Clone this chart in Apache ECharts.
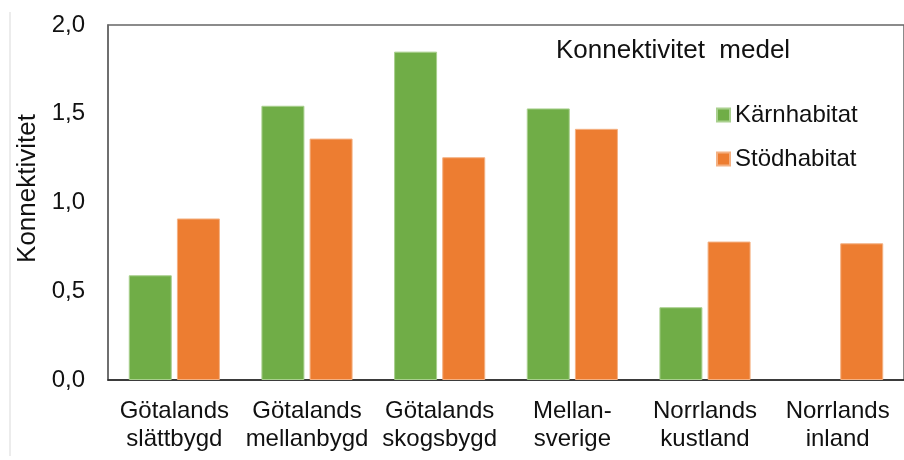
<!DOCTYPE html>
<html>
<head>
<meta charset="utf-8">
<script src="https://cdn.jsdelivr.net/npm/echarts@6/dist/echarts.min.js"></script>
<style>
  html, body { margin: 0; padding: 0; background: #fff; }
  #chart { width: 904px; height: 460px; }
</style>
</head>
<body>
<div id="chart"></div>
<script>
const categories = ['Götalands\nslättbygd', 'Götalands\nmellanbygd', 'Götalands\nskogsbygd', 'Mellan-\nsverige', 'Norrlands\nkustland', 'Norrlands\ninland'];
const karnhabitat = [0.59, 1.545, 1.85, 1.53, 0.41, null];
const stodhabitat = [0.91, 1.36, 1.255, 1.415, 0.78, 0.77];
const yTicks = { min: 0, max: 2, interval: 0.5 };

const font = 'Liberation Sans, Arial, sans-serif';
const chart = echarts.init(document.getElementById('chart'));

chart.setOption({
    animation: false,
    textStyle: { fontFamily: font },
    title: {
        text: 'Konnektivitet  medel',
        left: 551,
        top: 33,
        textStyle: { fontFamily: font, fontSize: 26, fontWeight: 'normal', color: '#111' }
    },
    legend: {
        orient: 'vertical',
        left: 711,
        top: 98,
        itemWidth: 13,
        itemHeight: 13,
        itemGap: 20,
        icon: 'rect',
        textStyle: { fontFamily: font, fontSize: 24, color: '#111' },
        data: ['Kärnhabitat', 'Stödhabitat']
    },
    grid: {
        left: 108,
        top: 25,
        width: 807,
        bottom: 80,
        show: true,
        borderColor: '#666',
        borderWidth: 1.5,
        containLabel: false
    },
    graphic: [{
        type: 'line',
        shape: { x1: 10, y1: 12, x2: 10, y2: 456 },
        style: { stroke: '#d9d9d9', lineWidth: 1 }
    }],
    xAxis: {
        type: 'category',
        data: categories,
        axisLine: { show: true, lineStyle: { color: '#222', width: 1.5 } },
        axisTick: { show: false },
        axisLabel: {
            fontFamily: font, fontSize: 24, color: '#111', lineHeight: 28,
            interval: 0, margin: 17
        }
    },
    yAxis: {
        type: 'value',
        min: yTicks.min,
        max: yTicks.max,
        interval: yTicks.interval,
        name: 'Konnektivitet',
        nameLocation: 'middle',
        nameGap: 66,
        nameTextStyle: { fontFamily: font, fontSize: 26, color: '#111', padding: [0, 0, 0, 28] },
        axisLine: { show: true, lineStyle: { color: '#666', width: 1.5 } },
        axisTick: { show: false },
        splitLine: { show: false },
        axisLabel: {
            fontFamily: font, fontSize: 24, color: '#111', margin: 23,
            formatter: v => v.toFixed(1).replace('.', ',')
        }
    },
    series: [
        {
            name: 'Kärnhabitat',
            type: 'bar',
            data: karnhabitat,
            barWidth: 43,
            barGap: '12%',
            itemStyle: { color: '#70AD47', borderColor: '#a9d08e', borderWidth: 1 }
        },
        {
            name: 'Stödhabitat',
            type: 'bar',
            data: stodhabitat,
            barWidth: 43,
            barGap: '12%',
            itemStyle: { color: '#ED7D31', borderColor: '#f4b183', borderWidth: 1 }
        }
    ]
});
</script>
</body>
</html>
